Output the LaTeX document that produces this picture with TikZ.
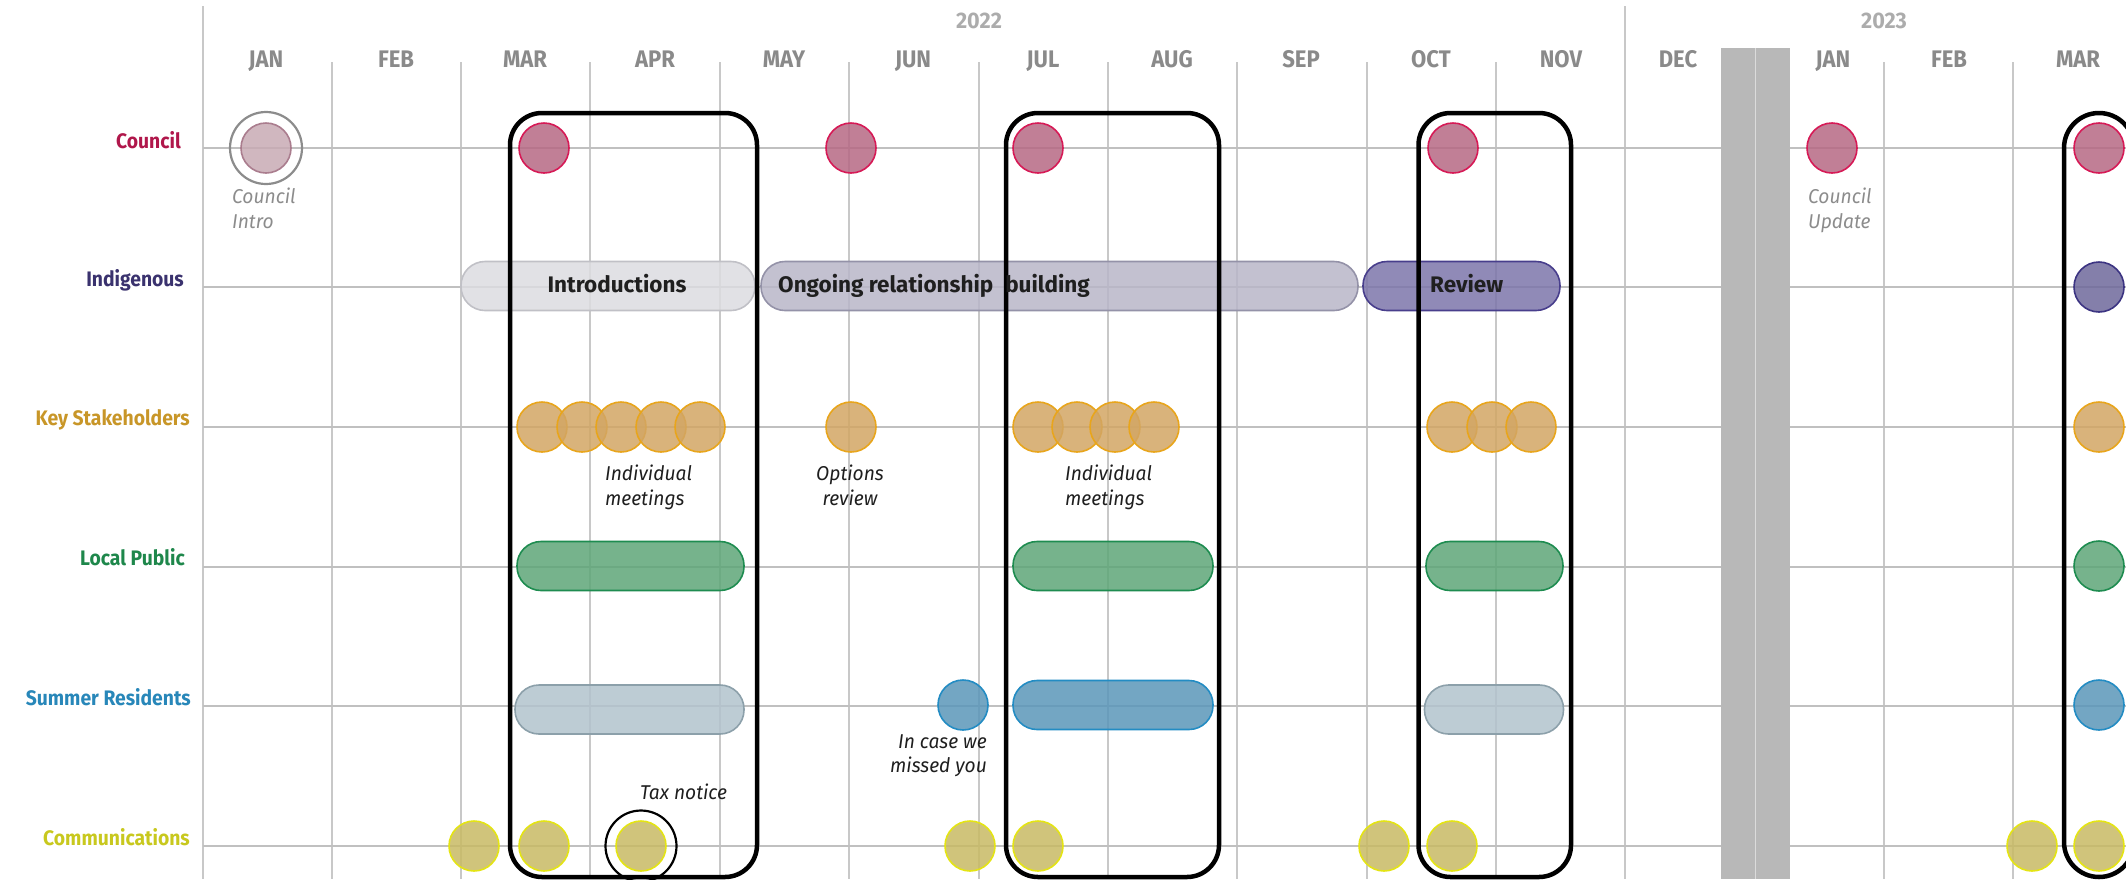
\documentclass[tikz,border=0pt]{standalone}
\usepackage{fontspec}
\setmainfont{Fira Sans}
\newfontfamily\condf[FakeStretch=0.92]{Fira Sans}
\newfontfamily\notef[FakeStretch=0.96]{Fira Sans}
\definecolor{gridc}{RGB}{192,192,192}
\definecolor{vgridc}{RGB}{200,200,200}
\definecolor{monthc}{RGB}{138,138,138}
\definecolor{yearc}{RGB}{172,172,172}
\definecolor{bandc}{RGB}{184,184,184}
\definecolor{notec}{RGB}{30,30,30}
\definecolor{gnotec}{RGB}{140,140,140}
\definecolor{cL}{RGB}{176,23,75}
\definecolor{cF}{RGB}{182,104,132}
\definecolor{cS}{RGB}{214,26,86}
\definecolor{ciF}{RGB}{200,170,180}
\definecolor{ciS}{RGB}{170,125,142}
\definecolor{ringc}{RGB}{140,140,140}
\definecolor{iL}{RGB}{58,50,110}
\definecolor{introF}{RGB}{220,220,224}
\definecolor{introS}{RGB}{192,192,198}
\definecolor{ongF}{RGB}{184,182,200}
\definecolor{ongS}{RGB}{148,146,168}
\definecolor{revF}{RGB}{124,117,170}
\definecolor{revS}{RGB}{72,62,140}
\definecolor{iF}{RGB}{110,105,155}
\definecolor{iS}{RGB}{60,52,130}
\definecolor{kL}{RGB}{200,150,40}
\definecolor{kF}{RGB}{210,166,100}
\definecolor{kS}{RGB}{232,165,28}
\definecolor{lL}{RGB}{30,135,75}
\definecolor{lF}{RGB}{94,166,120}
\definecolor{lS}{RGB}{30,140,80}
\definecolor{sL}{RGB}{40,135,185}
\definecolor{slF}{RGB}{178,195,205}
\definecolor{slS}{RGB}{140,160,170}
\definecolor{sbF}{RGB}{90,150,185}
\definecolor{sbS}{RGB}{35,140,195}
\definecolor{mL}{RGB}{200,200,30}
\definecolor{mF}{RGB}{200,186,100}
\definecolor{mS}{RGB}{228,228,20}
\begin{document}
\begin{tikzpicture}[x=1pt,y=-1pt,
  hline/.style={draw=gridc, line width=2.4pt},
  vline/.style={draw=vgridc, line width=2pt},
  month/.style={font=\condf\bfseries\fontsize{24}{24}\selectfont, text=monthc, anchor=base, inner sep=0pt},
  year/.style={font=\notef\bfseries\fontsize{22.5}{22.5}\selectfont, text=yearc, anchor=base, inner sep=0pt},
  rowlab/.style={font=\condf\bfseries\fontsize{21}{21}\selectfont, anchor=base east, inner sep=0pt},
  note/.style={font=\notef\itshape\fontsize{20}{20}\selectfont, inner sep=0pt, text=notec},
  gnote/.style={note, text=gnotec},
  bartext/.style={font=\bfseries\fontsize{22.5}{22.5}\selectfont, inner sep=0pt, text=black!88},
  dot/.style={circle, minimum size=50pt, inner sep=0pt, line width=1.6pt, fill opacity=0.85},
  bar/.style={rectangle, rounded corners=24pt, minimum height=49pt, inner sep=0pt, line width=1.6pt, fill opacity=0.85},
  phase/.style={rectangle, draw=black, line width=4.5pt, rounded corners=32pt, minimum height=764pt, inner sep=0pt},
  ring/.style={circle, inner sep=0pt, line width=2.2pt}
]
\useasboundingbox (0,0) rectangle (2126,879);
% grid
\foreach \x in {332,461,590,720,849,979,1108,1237,1367,1496,1884,2013}
  \draw[vline] (\x,62) -- (\x,879);
\draw[vline] (203,6) -- (203,879);
\draw[vline] (1625,6) -- (1625,879);
\foreach \y in {148,287,427,567,706,846}
  \draw[hline] (203,\y) -- (2126,\y);
% break band
\fill[bandc] (1721,48) rectangle (1790,879);
\draw[white, opacity=0.5, line width=1pt] (1755,48) -- (1755,879);
% headers
\foreach \m/\x [count=\i] in {JAN/266,FEB/396,MAR/525,APR/655,MAY/784,JUN/913,JUL/1043,AUG/1172,SEP/1301,OCT/1431,NOV/1561,DEC/1678,JAN/1833,FEB/1949,MAR/2078}
  \node[month] (mo\i) at (\x,67) {\m};
\node[year] (y22) at (979,28) {2022};
\node[year] (y23) at (1884,28) {2023};
% row labels
\node[rowlab, text=cL] (lc) at (181,148) {Council};
\node[rowlab, text=iL] (li) at (184,286) {Indigenous};
\node[rowlab, text=kL] (lk) at (190,425) {Key Stakeholders};
\node[rowlab, text=lL] (ll) at (185,565) {Local Public};
\node[rowlab, text=sL] (ls) at (191,705) {Summer Residents};
\node[rowlab, text=mL] (lm) at (190,845) {Communications};
% council
\node[ring, draw=ringc, minimum size=72pt] (cir) at (266,148) {};
\node[dot, draw=ciS, fill=ciF] (cid) at (266,148) {};
\foreach \x [count=\i] in {544,851,1038,1453,1832,2099}
  \node[dot, draw=cS, fill=cF] (cd\i) at (\x,148) {};
% indigenous
\node[bar, draw=introS, fill=introF, minimum width=294pt] (ib1) at (608,286) {};
\node[bar, draw=ongS, fill=ongF, minimum width=597pt] (ib2) at (1059.5,286) {};
\node[bar, draw=revS, fill=revF, minimum width=197pt] (ib3) at (1461.5,286) {};
\node[dot, draw=iS, fill=iF] (id1) at (2099,287) {};
% key stakeholders
\foreach \x [count=\i] in {542,582,621,661,700,851,1038,1077,1115,1154,1452,1492,1531,2099}
  \node[dot, draw=kS, fill=kF] (kd\i) at (\x,427) {};
% local public
\node[bar, draw=lS, fill=lF, minimum width=227pt] (lb1) at (630.5,566) {};
\node[bar, draw=lS, fill=lF, minimum width=200pt] (lb2) at (1113,566) {};
\node[bar, draw=lS, fill=lF, minimum width=137pt] (lb3) at (1494.5,566) {};
\node[dot, draw=lS, fill=lF] (ld1) at (2099,566) {};
% summer residents
\node[bar, draw=slS, fill=slF, minimum width=229pt] (sb1) at (629.5,709.5) {};
\node[dot, draw=sbS, fill=sbF] (sd1) at (963,705) {};
\node[bar, draw=sbS, fill=sbF, minimum width=200pt] (sb2) at (1113,705) {};
\node[bar, draw=slS, fill=slF, minimum width=139pt] (sb3) at (1494,709.5) {};
\node[dot, draw=sbS, fill=sbF] (sd2) at (2099,705) {};
% communications
\foreach \x [count=\i] in {474,544,641,970,1038,1384,1452,2032,2099}
  \node[dot, draw=mS, fill=mF] (md\i) at (\x,846) {};
\node[ring, draw=black, minimum size=71pt] (tax) at (641,846) {};
% phase boxes
\node[phase, minimum width=247pt] (ph1) at (633.5,495) {};
\node[phase, minimum width=213pt] (ph2) at (1112.5,495) {};
\node[phase, minimum width=152.5pt] (ph3) at (1494.75,495) {};
\node[phase, minimum width=70pt, rounded corners=35pt] (ph4) at (2099,495) {};
% bar texts
\node[bartext, anchor=base] (t1) at (617,292) {Introductions};
\node[bartext, anchor=base west] (t2) at (778,292) {Ongoing relationship\hspace{12pt}building};
\node[bartext, anchor=base west] (t3) at (1430,292) {Review};
% notes
\node[gnote, anchor=base west] (n1a) at (232,203) {Council};
\node[gnote, anchor=base west] (n1b) at (232,228) {Intro};
\node[gnote, anchor=base west] (n2a) at (1808,203) {Council};
\node[gnote, anchor=base west] (n2b) at (1808,228) {Update};
\node[note, anchor=base west] (n3a) at (605,480) {Individual};
\node[note, anchor=base west] (n3b) at (605,505) {meetings};
\node[note, anchor=base] (n4a) at (850,480) {Options};
\node[note, anchor=base] (n4b) at (850,505) {review};
\node[note, anchor=base west] (n5a) at (1065,480) {Individual};
\node[note, anchor=base west] (n5b) at (1065,505) {meetings};
\node[note, anchor=base east] (n6a) at (987,748) {In case we};
\node[note, anchor=base east] (n6b) at (987,772) {missed you};
\node[note, anchor=base west] (n7) at (640,799) {Tax notice};
\end{tikzpicture}
\end{document}
